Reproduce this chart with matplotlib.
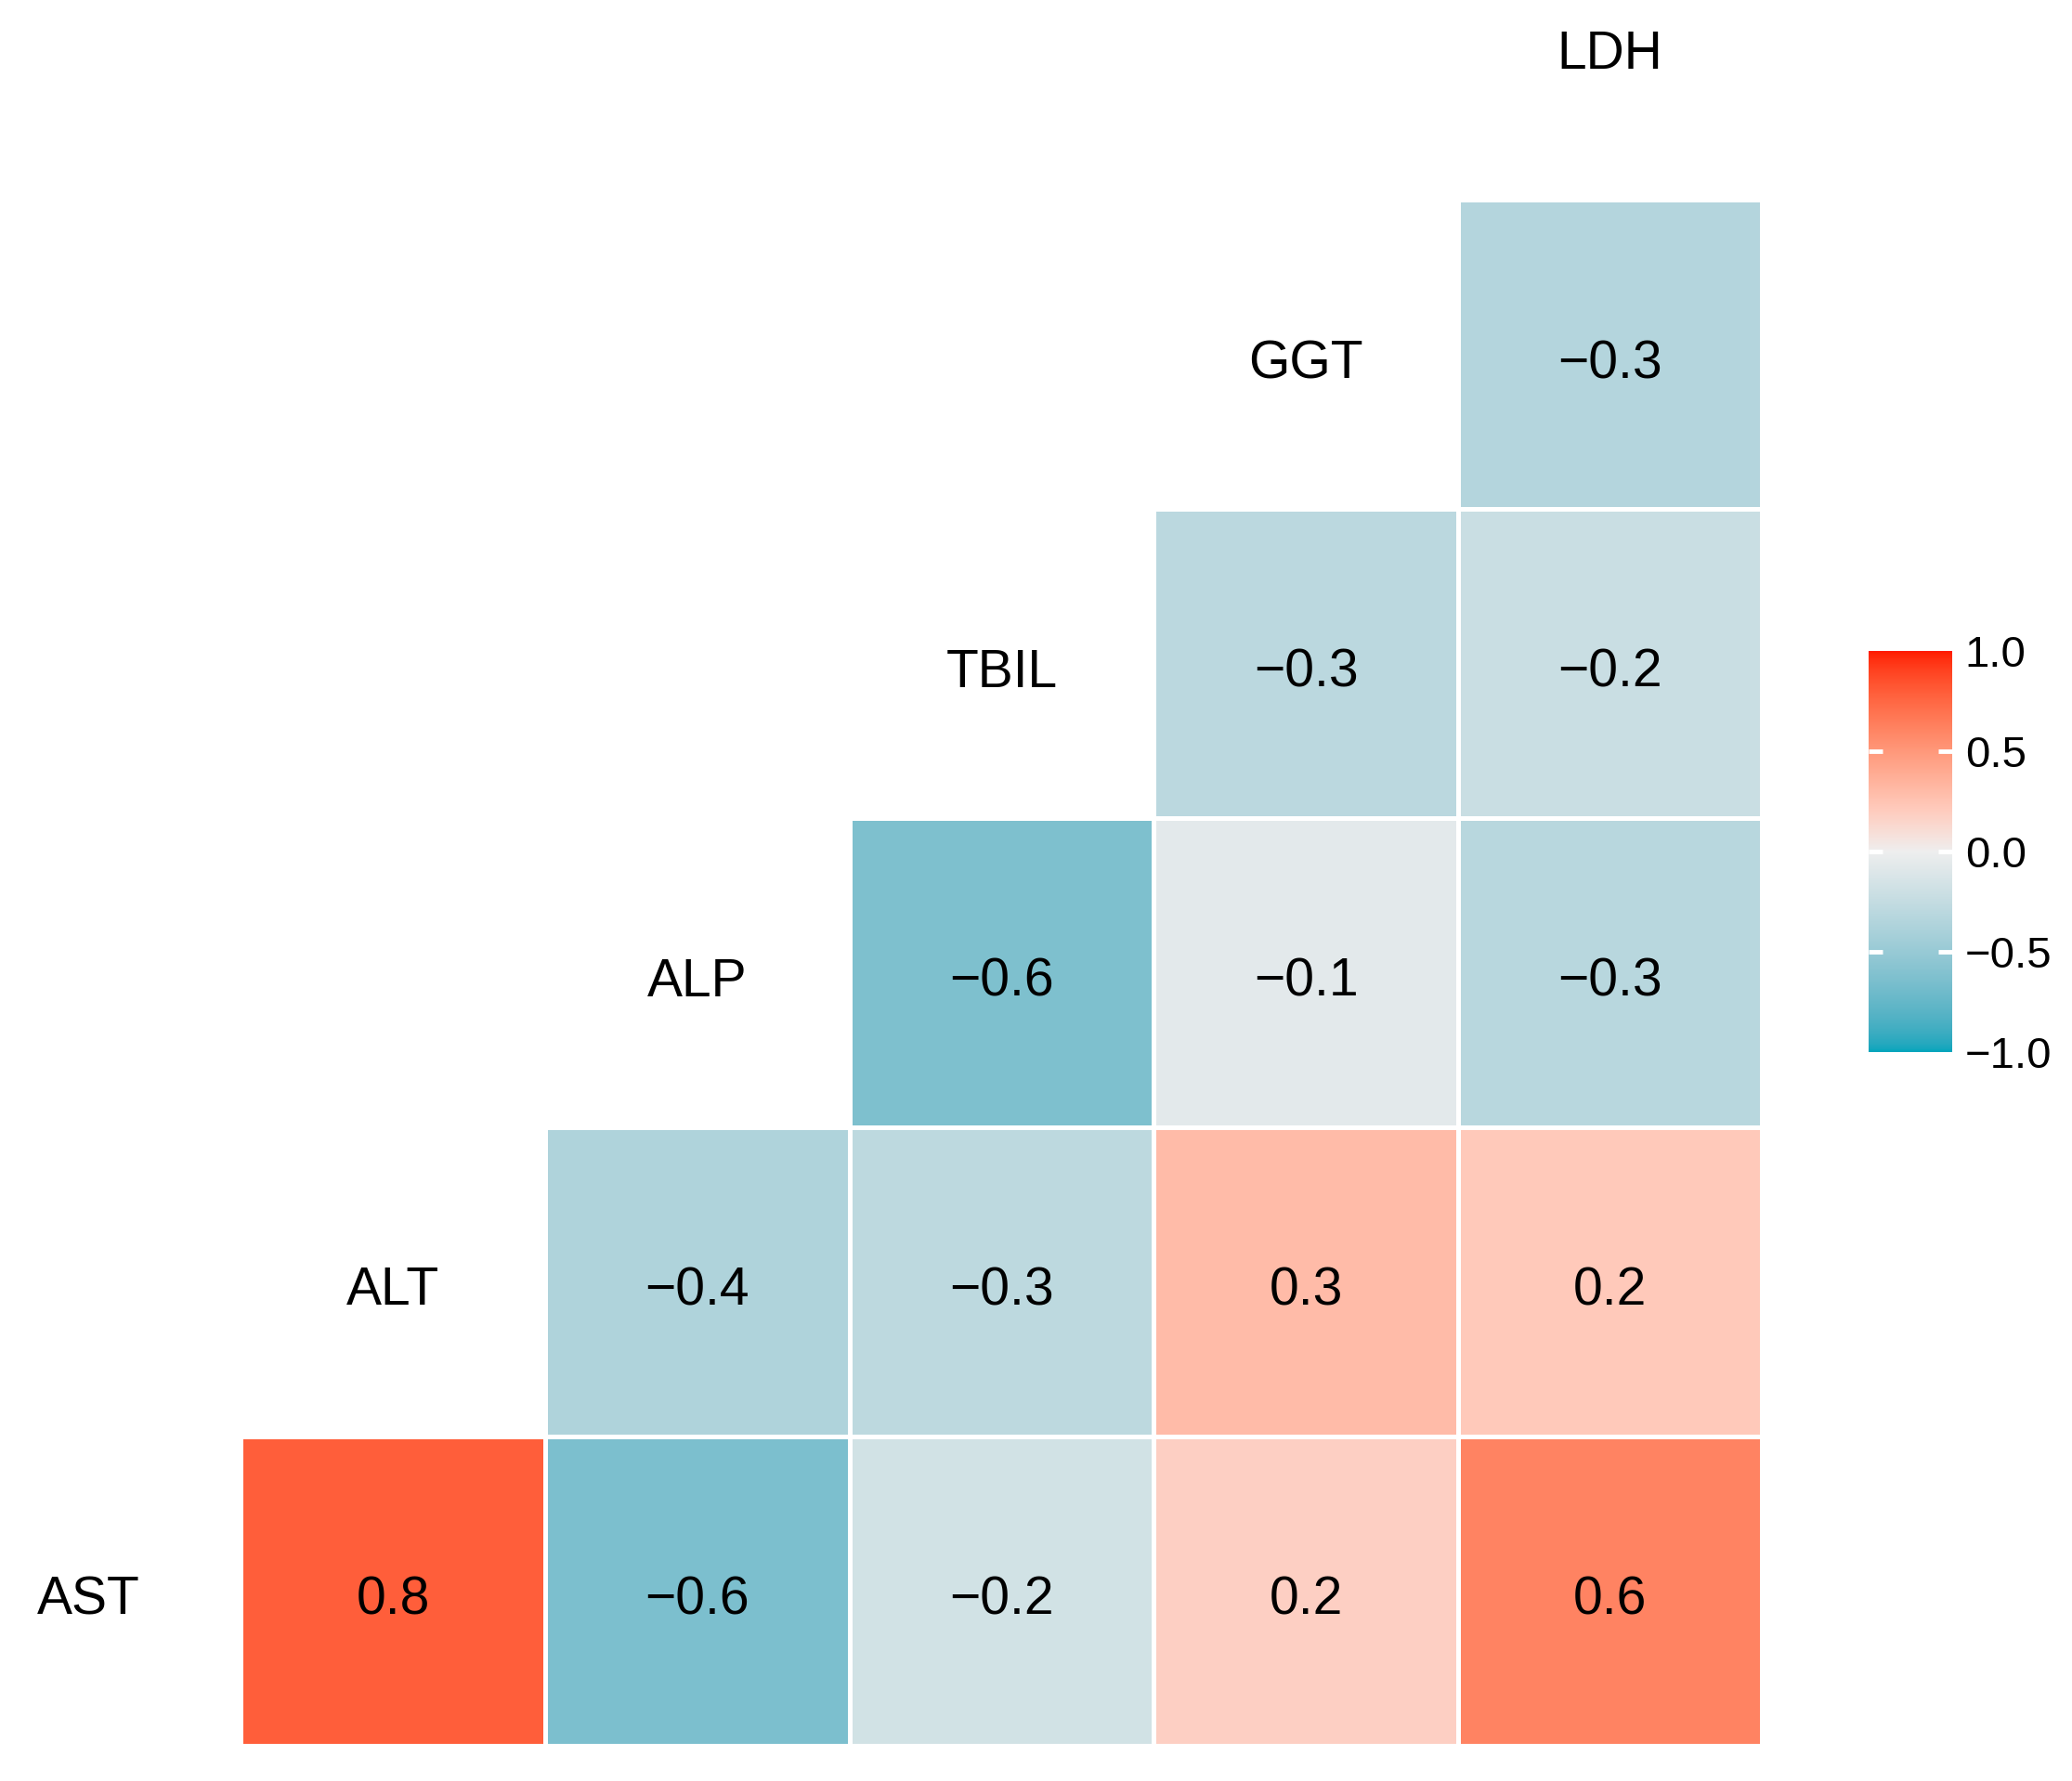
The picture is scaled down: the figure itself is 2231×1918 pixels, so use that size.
import numpy as np
import matplotlib
matplotlib.use("Agg")
import matplotlib.pyplot as plt
import matplotlib.transforms as mtransforms
from matplotlib.colors import ListedColormap, to_rgb

# ---------------- data ----------------
variables = ["AST", "ALT", "ALP", "TBIL", "GGT", "LDH"]
# correlations of each variable with the variables that follow it
r_AST = [0.79, -0.64, -0.17, 0.18, 0.61]     # vs ALT, ALP, TBIL, GGT, LDH
r_ALT = [-0.37, -0.29, 0.30, 0.22]           # vs ALP, TBIL, GGT, LDH
r_ALP = [-0.63, -0.07, -0.32]                # vs TBIL, GGT, LDH
r_TBIL = [-0.30, -0.22]                      # vs GGT, LDH
r_GGT = [-0.34]                              # vs LDH
rows = [r_AST, r_ALT, r_ALP, r_TBIL, r_GGT]
cbar_ticks = [-1.0, -0.5, 0.0, 0.5, 1.0]
cbar_ticklabels = ["\u22121.0", "\u22120.5", "0.0", "0.5", "1.0"]

low_col, mid_col, high_col = "#00A5BC", "#EEEEEE", "#FF1A00"

plt.rcParams["font.family"] = ["Liberation Sans", "DejaVu Sans"]

# ---------------- Lab-interpolated diverging palette ----------------
_M = np.array([[0.4124564, 0.3575761, 0.1804375],
               [0.2126729, 0.7151522, 0.0721750],
               [0.0193339, 0.1191920, 0.9503041]])
_Minv = np.linalg.inv(_M)
_white = np.array([0.95047, 1.0, 1.08883])


def srgb_to_lab(c):
    c = np.asarray(c, float)
    lin = np.where(c <= 0.04045, c / 12.92, ((c + 0.055) / 1.055) ** 2.4)
    xyz = _M @ lin / _white
    d = 6 / 29
    f = np.where(xyz > d ** 3, np.cbrt(xyz), xyz / (3 * d * d) + 4 / 29)
    return np.array([116 * f[1] - 16, 500 * (f[0] - f[1]), 200 * (f[1] - f[2])])


def lab_to_srgb(lab):
    L, a, b = lab
    fy = (L + 16) / 116
    fx = fy + a / 500
    fz = fy - b / 200
    d = 6 / 29
    f = np.array([fx, fy, fz])
    xyz = np.where(f > d, f ** 3, 3 * d * d * (f - 4 / 29)) * _white
    lin = _Minv @ xyz
    lin = np.clip(lin, 0, 1)
    c = np.where(lin <= 0.0031308, 12.92 * lin, 1.055 * lin ** (1 / 2.4) - 0.055)
    return np.clip(c, 0, 1)


lab_lo, lab_mid, lab_hi = (srgb_to_lab(to_rgb(c)) for c in (low_col, mid_col, high_col))
cols = []
for v in np.linspace(-1, 1, 512):
    if v < 0:
        lab = lab_mid + (-v) * (lab_lo - lab_mid)
    else:
        lab = lab_mid + v * (lab_hi - lab_mid)
    cols.append(lab_to_srgb(lab))
cmap = ListedColormap(cols)

# ---------------- matrix ----------------
n = len(variables)
Z = np.full((n - 1, n), np.nan)
for i, r in enumerate(rows):
    for k, val in enumerate(r):
        Z[i, i + 1 + k] = val
Zm = np.ma.masked_invalid(Z)

# ---------------- figure ----------------
fig = plt.figure(figsize=(22.31, 19.18), dpi=100)
ax = fig.add_axes([0.1163, 0.02007, 0.7342, 0.8676])
xe = np.arange(-0.5, n, 1.0)
ye = np.arange(-0.5, n - 1, 1.0)
mesh = ax.pcolormesh(xe, ye, Zm, cmap=cmap, vmin=-1, vmax=1,
                     edgecolors="white", linewidth=3.6)
ax.set_xlim(0.5, n - 0.5)
ax.set_ylim(-0.5, n - 1.5)
ax.axis("off")

txt_tr = mtransforms.offset_copy(ax.transData, fig=fig, x=0, y=-3, units="points")

for i in range(n - 1):
    for j in range(i + 1, n):
        s = f"{Z[i, j]:.1f}".replace("-", "\u2212")
        ax.text(j, i, s, ha="center", va="center_baseline", fontsize=41,
                color="black", transform=txt_tr)

for i, name in enumerate(variables):
    ax.text(i, i, name, ha="center", va="center_baseline", fontsize=41,
            color="black", clip_on=False, transform=txt_tr)

cax = fig.add_axes([0.9018, 0.4093, 0.0403, 0.2252])
cb = fig.colorbar(mesh, cax=cax, ticks=cbar_ticks)
cb.outline.set_visible(False)
cb.set_ticklabels(cbar_ticklabels)
cb.ax.tick_params(direction="in", left=True, right=True, color="white",
                  length=10.8, width=3.5, labelsize=34, pad=10,
                  labelcolor="black")
ticks = cb.ax.yaxis.get_major_ticks()
for t in (ticks[0], ticks[-1]):
    t.tick1line.set_visible(False)
    t.tick2line.set_visible(False)

fig.savefig("out.png", dpi=100, facecolor="white")
